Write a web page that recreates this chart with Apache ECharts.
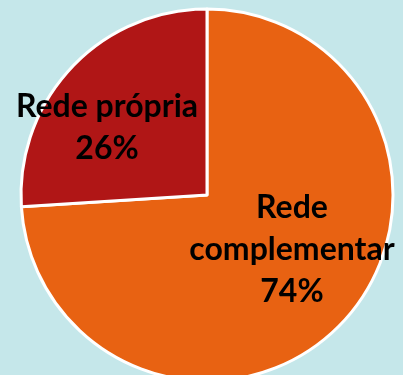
<!DOCTYPE html>
<html>
<head>
<meta charset="utf-8">
<script src="https://cdn.jsdelivr.net/npm/echarts@6/dist/echarts.min.js"></script>
<style>
  html, body { margin: 0; padding: 0; background: #c5e7ea; }
  #chart { width: 403px; height: 375px; }
</style>
</head>
<body>
<div id="chart"></div>
<script>
// Share of the network: complementary vs. own
const categories = ['Rede\ncomplementar', 'Rede própria'];
const shares = [74, 26];
const sliceColors = ['#e86212', '#b01616'];

// Fine placement of each label relative to the slice centroid
const labelShift = [[15, -11], [-30, -2]];

const chart = echarts.init(document.getElementById('chart'), null, { renderer: 'canvas' });
chart.setOption({
  backgroundColor: '#c5e7ea',
  animation: false,
  series: [{
    type: 'pie',
    center: [207, 195],
    radius: [0, 186],
    startAngle: 90,
    clockwise: true,
    data: categories.map((name, i) => ({
      name: name,
      value: shares[i],
      itemStyle: { color: sliceColors[i] }
    })),
    itemStyle: { borderColor: '#ffffff', borderWidth: 3 },
    label: {
      show: true,
      position: 'inside',
      formatter: '{b}\n{d}%',
      color: '#000000',
      fontFamily: 'Lato',
      fontWeight: 'bold',
      fontSize: 32,
      lineHeight: 42,
      align: 'center'
    },
    labelLine: { show: false },
    labelLayout: function (params) {
      const s = labelShift[params.dataIndex];
      return { dx: s[0], dy: s[1] };
    },
    emphasis: { disabled: true }
  }]
});
</script>
</body>
</html>
